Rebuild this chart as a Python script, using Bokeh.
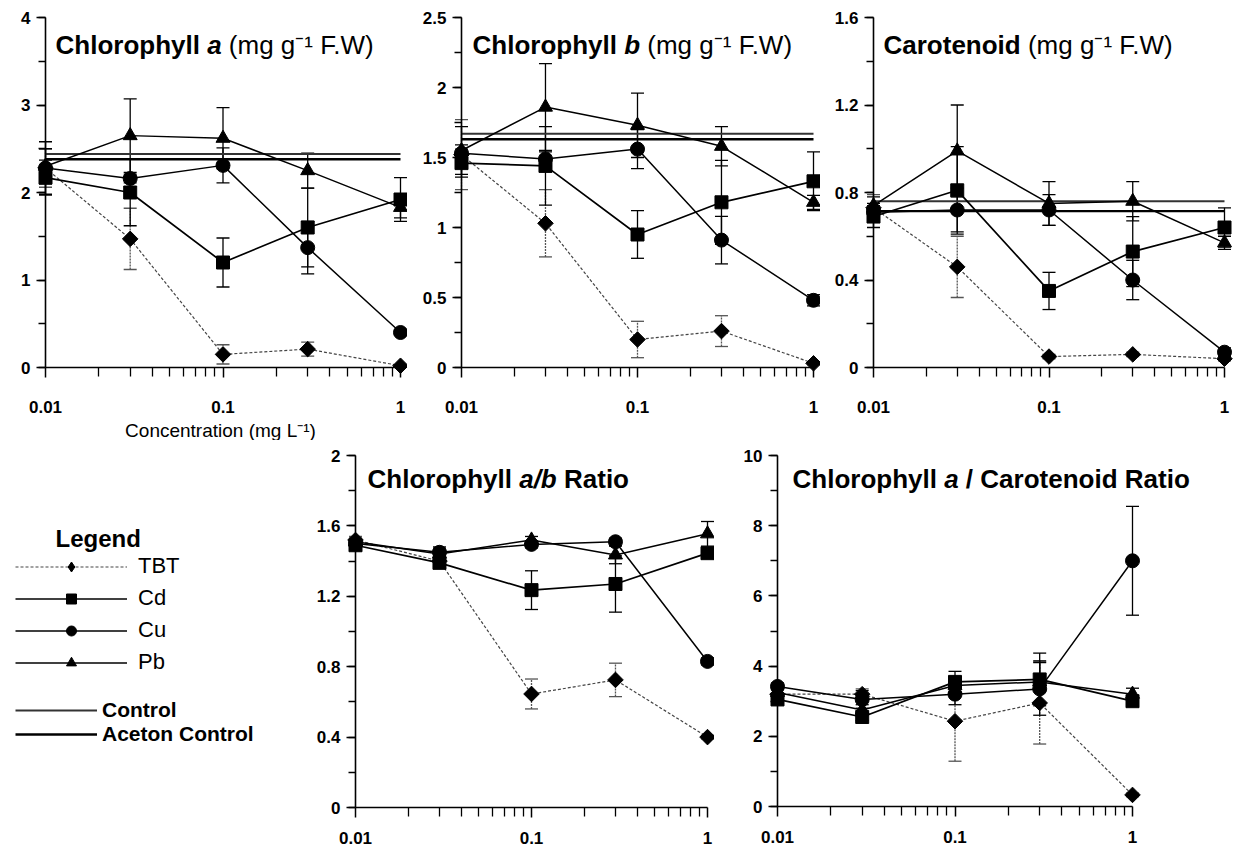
import math
from bokeh.plotting import figure
from bokeh.models import (Range1d, Whisker, ColumnDataSource, Label, SingleIntervalTicker,
                          PrintfTickFormatter, FixedTicker, Legend, LegendItem, TeeHead)
from bokeh.layouts import row, column
from bokeh.embed import file_html
from bokeh.resources import INLINE

# ---------------- data ----------------
conc = [0.01, 0.03, 0.1, 0.3, 1.0]
x_major_ticks = [0.01, 0.1, 1.0]
x_minor_ticks = [0.02, 0.03, 0.04, 0.05, 0.06, 0.07, 0.08, 0.09,
                 0.2, 0.3, 0.4, 0.5, 0.6, 0.7, 0.8, 0.9]
treatments = ["TBT", "Cd", "Cu", "Pb"]
control_names = ["Control", "Aceton Control"]

# Chlorophyll a (mg g-1 F.W)
chla_tbt = [2.28, 1.47, 0.15, 0.21, 0.02]
chla_tbt_err = [0.22, 0.35, 0.11, 0.08, 0.01]
chla_cd = [2.17, 2.00, 1.20, 1.60, 1.92]
chla_cd_err = [0.20, 0.38, 0.28, 0.45, 0.25]
chla_cu = [2.28, 2.16, 2.31, 1.37, 0.40]
chla_cu_err = [0.30, 0.05, 0.20, 0.30, 0.03]
chla_pb = [2.30, 2.65, 2.62, 2.25, 1.83]
chla_pb_err = [0.20, 0.42, 0.35, 0.20, 0.12]
chla_controls = [2.44, 2.38]

# Chlorophyll b (mg g-1 F.W)
chlb_tbt = [1.52, 1.03, 0.20, 0.26, 0.03]
chlb_tbt_err = [0.25, 0.24, 0.13, 0.11, 0.01]
chlb_cd = [1.46, 1.44, 0.95, 1.18, 1.33]
chlb_cd_err = [0.10, 0.28, 0.17, 0.30, 0.21]
chlb_cu = [1.53, 1.49, 1.56, 0.91, 0.48]
chlb_cu_err = [0.06, 0.05, 0.14, 0.17, 0.04]
chlb_pb = [1.55, 1.86, 1.73, 1.58, 1.18]
chlb_pb_err = [0.17, 0.31, 0.23, 0.14, 0.05]
chlb_controls = [1.67, 1.63]

# Carotenoid (mg g-1 F.W)
car_tbt = [0.73, 0.46, 0.05, 0.06, 0.04]
car_tbt_err = [0.06, 0.14, 0.01, 0.01, 0.01]
car_cd = [0.69, 0.81, 0.35, 0.53, 0.64]
car_cd_err = [0.05, 0.20, 0.085, 0.16, 0.09]
car_cu = [0.71, 0.72, 0.72, 0.40, 0.07]
car_cu_err = [0.04, 0.10, 0.07, 0.09, 0.02]
car_pb = [0.74, 0.99, 0.75, 0.76, 0.57]
car_pb_err = [0.04, 0.21, 0.10, 0.09, 0.03]
car_controls = [0.76, 0.715]

# Chlorophyll a/b ratio
ab_tbt = [1.52, 1.40, 0.645, 0.725, 0.40]
ab_tbt_err = [0.02, 0.03, 0.085, 0.095, 0.01]
ab_cd = [1.49, 1.39, 1.235, 1.27, 1.445]
ab_cd_err = [0.03, 0.03, 0.11, 0.16, 0.03]
ab_cu = [1.50, 1.45, 1.495, 1.51, 0.83]
ab_cu_err = [0.02, 0.02, 0.02, 0.02, 0.02]
ab_pb = [1.51, 1.44, 1.52, 1.435, 1.555]
ab_pb_err = [0.02, 0.04, 0.02, 0.05, 0.07]

# Chlorophyll a / carotenoid ratio
ac_tbt = [3.20, 3.20, 2.43, 2.95, 0.33]
ac_tbt_err = [0.15, 0.15, 1.14, 1.17, 0.05]
ac_cd = [3.05, 2.55, 3.55, 3.62, 3.00]
ac_cd_err = [0.10, 0.10, 0.30, 0.75, 0.10]
ac_cu = [3.42, 3.05, 3.20, 3.35, 7.00]
ac_cu_err = [0.10, 0.25, 0.30, 0.75, 1.55]
ac_pb = [3.25, 2.75, 3.45, 3.55, 3.20]
ac_pb_err = [0.10, 0.15, 0.20, 0.60, 0.17]

# ---------------- styling ----------------
FONT = "Liberation Sans"
TITLE_PX = 26

STYLE = {
    "TBT": dict(marker="square", angle=math.pi / 4, size=11, dash="3 2", color="#444444", width=1.2),
    "Cd": dict(marker="square", angle=0.0, size=13, dash="solid", color="black", width=1.7),
    "Cu": dict(marker="circle", angle=0.0, size=14, dash="solid", color="black", width=1.5),
    "Pb": dict(marker="triangle", angle=0.0, size=14, dash="solid", color="black", width=1.5),
}
CONTROL_STYLE = [dict(color="#333333", width=2.0), dict(color="black", width=2.4)]


def geo(fx, fy, w, h, ax_x0=None, ax_x1=None, ax_y0=None, ax_y1=None):
    # figure box on the page and the page pixels of the axis ends
    return dict(fx=fx, fy=fy, w=w, h=h, ax_x0=ax_x0, ax_x1=ax_x1, ax_y0=ax_y0, ax_y1=ax_y1)


def add_text(p, g, page_x, page_y, text, style, size, align="left"):
    p.add_layout(Label(
        x=page_x - g["fx"], y=(g["fy"] + g["h"]) - page_y,
        x_units="screen", y_units="screen", text=text,
        text_font=FONT, text_font_style=style, text_font_size=f"{size}px",
        text_align=align, text_baseline="alphabetic", text_color="black"))


def add_title(p, g, x0, baseline, pieces):
    x = x0
    for text, style, adv_em in pieces:
        add_text(p, g, x, baseline, text, style, TITLE_PX)
        x += adv_em * TITLE_PX


def make_panel(g, ymax, yint, values, errors, controls, label_standoff):
    lo, hi = math.log10(conc[0]), math.log10(conc[-1])
    kx = (g["ax_x1"] - g["ax_x0"]) / (hi - lo)           # px per decade
    x_range = Range1d(10 ** (lo - (g["ax_x0"] - g["fx"]) / kx),
                      10 ** (hi + (g["fx"] + g["w"] - g["ax_x1"]) / kx))
    uy = ymax / (g["ax_y0"] - g["ax_y1"])                  # data units per px
    y_range = Range1d(-(g["fy"] + g["h"] - g["ax_y0"]) * uy, ymax + (g["ax_y1"] - g["fy"]) * uy)
    p = figure(width=g["w"], height=g["h"], x_axis_type="log", x_range=x_range, y_range=y_range,
               output_backend="svg", toolbar_location=None, tools="",
               min_border=0, min_border_left=0, min_border_right=0,
               min_border_top=0, min_border_bottom=0)
    p.outline_line_color = None
    p.grid.visible = False
    p.background_fill_color = "white"
    p.border_fill_color = "white"

    xa = p.xaxis[0]
    ya = p.yaxis[0]
    xa.ticker = FixedTicker(ticks=x_major_ticks, minor_ticks=x_minor_ticks)
    xa.formatter = PrintfTickFormatter(format="%.3g")
    xa.bounds = (conc[0], conc[-1])
    xa.fixed_location = 0
    ya.fixed_location = conc[0]
    ya.ticker = SingleIntervalTicker(interval=yint, num_minor_ticks=2)
    ya.formatter = PrintfTickFormatter(format="%.3g")
    ya.bounds = (0, ymax)
    for ax in (xa, ya):
        ax.axis_line_color = "black"
        ax.axis_line_width = 1.6
        ax.major_tick_line_color = "black"
        ax.minor_tick_line_color = "black"
        ax.major_tick_line_width = 1.5
        ax.minor_tick_line_width = 1.3
        ax.major_tick_in = 0
        ax.minor_tick_in = 0
        ax.major_label_text_font = FONT
        ax.major_label_text_font_size = "17px"
        ax.major_label_text_font_style = "bold"
        ax.major_label_text_color = "black"
    xa.major_tick_out = 10
    xa.minor_tick_out = 9
    xa.major_label_standoff = label_standoff
    ya.major_tick_out = 9
    ya.minor_tick_out = 7
    ya.major_label_standoff = 6

    for val, cs in zip(controls, CONTROL_STYLE):
        p.line(x=[conc[0], conc[-1]], y=[val, val], line_color=cs["color"], line_width=cs["width"])

    for name in treatments:
        st = STYLE[name]
        vals = values[name]
        errs = errors[name]
        src = ColumnDataSource(dict(x=conc, y=vals,
                                    upper=[v + e for v, e in zip(vals, errs)],
                                    lower=[v - e for v, e in zip(vals, errs)]))
        wc = "#555555" if name == "TBT" else "black"
        wd = "2 1" if name == "TBT" else "solid"
        p.add_layout(Whisker(source=src, base="x", upper="upper", lower="lower", dimension="height",
                             line_color=wc, line_width=1.3, line_dash=wd,
                             upper_head=TeeHead(size=13, line_color=wc, line_width=1.3),
                             lower_head=TeeHead(size=13, line_color=wc, line_width=1.3)))
        p.line(x="x", y="y", source=src, line_color=st["color"], line_width=st["width"],
               line_dash=st["dash"])
        p.scatter(x="x", y="y", source=src, marker=st["marker"], size=st["size"], angle=st["angle"],
                  fill_color="black", line_color="black")
    return p


# ---------------- layout geometry (page pixels) ----------------
g1 = geo(0, 0, 407, 440, 45, 400, 367, 17)
g2 = geo(407, 0, 413, 440, 461, 813, 367, 17)
g3 = geo(820, 0, 417, 440, 873, 1224, 367, 17)
gl = geo(0, 440, 295, 413)
g4 = geo(295, 440, 419, 413, 355, 707, 807, 455)
g5 = geo(714, 440, 523, 413, 777, 1132, 806, 455)

p1 = make_panel(g1, 4, 1, dict(TBT=chla_tbt, Cd=chla_cd, Cu=chla_cu, Pb=chla_pb),
                dict(TBT=chla_tbt_err, Cd=chla_cd_err, Cu=chla_cu_err, Pb=chla_pb_err),
                chla_controls, 23)
p2 = make_panel(g2, 2.5, 0.5, dict(TBT=chlb_tbt, Cd=chlb_cd, Cu=chlb_cu, Pb=chlb_pb),
                dict(TBT=chlb_tbt_err, Cd=chlb_cd_err, Cu=chlb_cu_err, Pb=chlb_pb_err),
                chlb_controls, 23)
p3 = make_panel(g3, 1.6, 0.4, dict(TBT=car_tbt, Cd=car_cd, Cu=car_cu, Pb=car_pb),
                dict(TBT=car_tbt_err, Cd=car_cd_err, Cu=car_cu_err, Pb=car_pb_err),
                car_controls, 23)
p4 = make_panel(g4, 2, 0.4, dict(TBT=ab_tbt, Cd=ab_cd, Cu=ab_cu, Pb=ab_pb),
                dict(TBT=ab_tbt_err, Cd=ab_cd_err, Cu=ab_cu_err, Pb=ab_pb_err),
                [], 14)
p5 = make_panel(g5, 10, 2, dict(TBT=ac_tbt, Cd=ac_cd, Cu=ac_cu, Pb=ac_pb),
                dict(TBT=ac_tbt_err, Cd=ac_cd_err, Cu=ac_cu_err, Pb=ac_pb_err),
                [], 14)

SUP = "(mg g\u207b\u00b9 F.W)"
add_title(p1, g1, 55, 44, [("Chlorophyll", "bold", 5.834), ("a", "bold italic", 0.834), (SUP, "normal", 0)])
add_title(p2, g2, 472, 44, [("Chlorophyll", "bold", 5.834), ("b", "bold italic", 0.889), (SUP, "normal", 0)])
add_title(p3, g3, 883, 44, [("Carotenoid", "bold", 5.556), (SUP, "normal", 0)])
add_title(p4, g4, 367, 478, [("Chlorophyll", "bold", 5.834), ("a/b", "bold italic", 1.723), ("Ratio", "bold", 0)])
add_title(p5, g5, 792, 478, [("Chlorophyll", "bold", 5.834), ("a", "bold italic", 0.834),
                             ("/ Carotenoid Ratio", "bold", 0)])
add_text(p1, g1, 220, 430, "Concentration (mg L\u207b\u00b9)", "normal", 19, align="center")

# ---------------- legend panel ----------------
pl = figure(width=gl["w"], height=gl["h"], x_range=Range1d(0, 1), y_range=Range1d(0, 1),
            x_axis_location=None, y_axis_location=None, output_backend="svg",
            toolbar_location=None, tools="", min_border=0, min_border_left=0,
            min_border_right=0, min_border_top=0, min_border_bottom=0)
pl.outline_line_color = None
pl.grid.visible = False

# proxy renderers (kept outside the visible range) that only supply legend glyphs
legend_markers = {"TBT": "diamond", "Cd": "square", "Cu": "circle", "Pb": "triangle"}
items = []
for name in treatments:
    st = STYLE[name]
    rl = pl.line(x=[-5, -4], y=[-5, -4], line_color=st["color"], line_width=st["width"],
                 line_dash=st["dash"])
    rm = pl.scatter(x=[-5], y=[-5], marker=legend_markers[name], fill_color="black",
                    line_color="black")
    items.append(LegendItem(label=name, renderers=[rl, rm]))
leg1 = Legend(items=items, location=(15, 178), orientation="vertical", glyph_width=112,
              glyph_height=25, label_height=25, label_standoff=11, spacing=6, padding=0, margin=0,
              border_line_color=None, background_fill_alpha=0, label_text_font=FONT,
              label_text_font_size="22px", label_text_color="black")
pl.add_layout(leg1)

citems = []
for cname, cs in zip(control_names, CONTROL_STYLE):
    rc = pl.line(x=[-5, -4], y=[-5, -4], line_color=cs["color"], line_width=cs["width"])
    citems.append(LegendItem(label=cname, renderers=[rc]))
leg2 = Legend(items=citems, location=(15, 107), orientation="vertical", glyph_width=82,
              glyph_height=24, label_height=24, label_standoff=5, spacing=-8, padding=0, margin=0,
              border_line_color=None, background_fill_alpha=0, label_text_font=FONT,
              label_text_font_size="21px", label_text_font_style="bold", label_text_color="black")
pl.add_layout(leg2)
add_text(pl, gl, 55, 538, "Legend", "bold", 24)

layout = column(row(p1, p2, p3), row(pl, p4, p5))

with open("out.html", "w") as f:
    f.write(file_html(layout, INLINE))
